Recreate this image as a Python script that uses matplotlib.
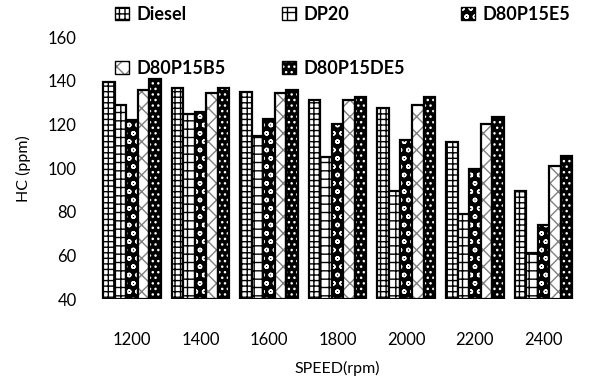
import numpy as np
import matplotlib.pyplot as plt
from matplotlib.patches import Patch

# --- données ---
vitesses = ['1200', '1400', '1600', '1800', '2000', '2200', '2400']
carburants = ['Diesel', 'DP20', 'D80P15E5', 'D80P15B5', 'D80P15DE5']

hc_diesel = [139.5, 136.7, 134.7, 131.4, 127.7, 112.0, 89.6]
hc_dp20 = [128.8, 124.7, 114.6, 105.0, 89.6, 79.2, 61.2]
hc_e5 = [122.2, 125.7, 122.4, 120.0, 113.1, 99.8, 73.9]
hc_b5 = [135.7, 134.6, 134.6, 131.1, 128.9, 120.0, 100.9]
hc_de5 = [141.0, 136.9, 135.7, 132.6, 132.6, 123.4, 105.6]

series = [hc_diesel, hc_dp20, hc_e5, hc_b5, hc_de5]

# style: (couleur de fond, couleur du motif, motif)
styles = [
    ('white', 'black', '+++'),
    ('white', 'black', '++'),
    ('black', 'white', 'oo'),
    ('white', '#808080', 'xx'),
    ('black', 'white', '...'),
]

plt.rcParams['font.family'] = ['Lato', 'DejaVu Sans']
plt.rcParams['hatch.linewidth'] = 1.0

fig = plt.figure(figsize=(5.95, 3.83), dpi=100)
ax = fig.add_axes([0.164, 0.219, 0.807, 0.684])

x = np.arange(len(vitesses))
largeur = 0.168
for i, (vals, (fc, hc, h)) in enumerate(zip(series, styles)):
    pos = x + (i - 2) * largeur
    hauteurs = np.array(vals) - 40
    ax.bar(pos, hauteurs, largeur, bottom=40, facecolor=fc, edgecolor=hc,
           hatch=h, linewidth=0)
    ax.bar(pos, hauteurs, largeur, bottom=40, fill=False, edgecolor='black',
           linewidth=1.6)

ax.set_xlim(-0.5, len(vitesses) - 0.5)
ax.set_ylim(40, 160)
ax.set_yticks(np.arange(40, 161, 20))
ax.set_xticks(x)
ax.set_xticklabels(vitesses)
ax.tick_params(axis='x', length=0, pad=24, labelsize=12)
ax.tick_params(axis='y', length=0, pad=15, labelsize=12)
for s in ax.spines.values():
    s.set_visible(False)

ax.set_xlabel('SPEED(rpm)', fontsize=11.5, labelpad=9)
ax.set_ylabel('HC (ppm)', fontsize=11.5, labelpad=12)

# légende remplie par colonnes -> réordonner pour lire par lignes
ordre = [0, 3, 1, 4, 2]
poignees = []
for k in ordre:
    fc, hc, h = styles[k]
    motif = Patch(facecolor=fc, edgecolor=hc, hatch=h, linewidth=0)
    contour = Patch(fill=False, edgecolor='black', linewidth=1.0)
    poignees.append((motif, contour))
noms = [carburants[k] for k in ordre]
fig.legend(poignees, noms, ncol=3, loc='upper left',
           bbox_to_anchor=(0.193, 0.985), frameon=False,
           borderpad=0, borderaxespad=0,
           prop={'weight': 'bold', 'size': 13},
           handlelength=0.8, handleheight=0.8, handletextpad=0.4,
           columnspacing=3.1, labelspacing=2.05)

fig.savefig('out.png', dpi=100)
